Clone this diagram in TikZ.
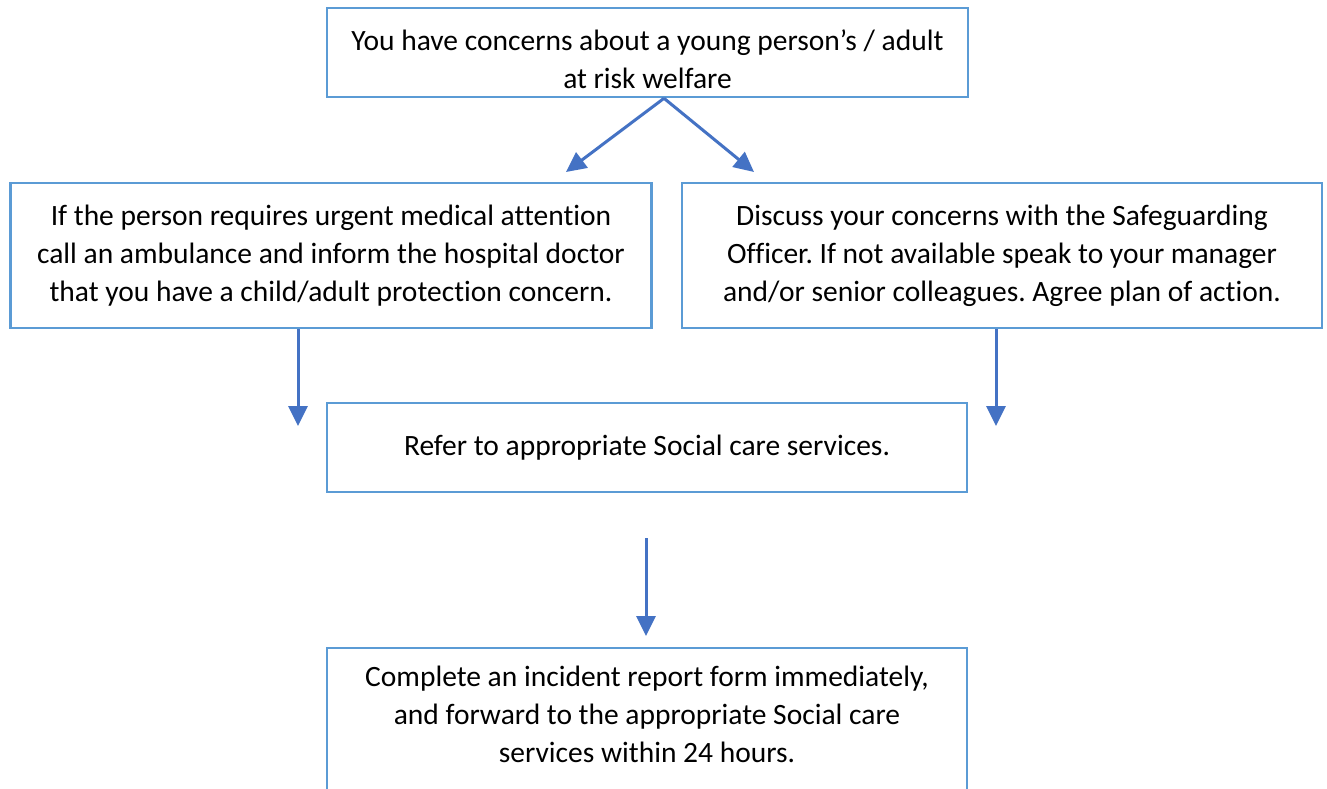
\documentclass[tikz,border=0pt]{standalone}
\usepackage{fontspec}
\setmainfont{Carlito}[Ligatures=NoCommon]
\usetikzlibrary{arrows.meta}
\definecolor{boxline}{HTML}{5B9BD5}
\definecolor{arrowblue}{HTML}{4472C4}
\tikzset{
  boxtext/.style={align=center, inner sep=0pt,
    font=\fontsize{29.5pt}{38pt}\selectfont},
  flowbox/.style={boxtext, draw=boxline, line width=2.6pt, rectangle},
  flowarrow/.style={draw=arrowblue, line width=3pt,
    -{Triangle[length=20pt,width=19pt]}}
}
\begin{document}
\frenchspacing
\begin{tikzpicture}[x=1pt,y=-1pt]
\useasboundingbox (0,0) rectangle (1327,789);
\fill[white] (0,0) rectangle (1327,789);
\begin{scope}
\clip (0,0) rectangle (1327,789);
% boxes, placed by their centres
\node[flowbox, minimum width=641pt, minimum height=89pt] (top) at (647.5,52.5) {};
\node[boxtext] (toptext) at (647.5,59)
  {You have concerns about a young person’s / adult\\at risk welfare};
\node[flowbox, minimum width=641pt, minimum height=145pt] (left) at (331,255.5)
  {If the person requires urgent medical attention\\call an ambulance and inform the hospital doctor\\that you have a child/adult protection concern.};
\node[flowbox, minimum width=640pt, minimum height=145pt] (right) at (1002,255.5)
  {Discuss your concerns with the Safeguarding\\Officer. If not available speak to your manager\\and/or senior colleagues. Agree plan of action.};
\node[flowbox, minimum width=640pt, minimum height=89pt] (refer) at (647,447.5)
  {Refer to appropriate Social care services.};
% the last box runs past the lower edge of the page
\node[flowbox, minimum width=640pt, minimum height=152pt] (report) at (647,724) {};
\node[boxtext] (reporttext) at (647,714)
  {Complete an incident report form immediately,\\and forward to the appropriate Social care\\services within 24 hours.};
\end{scope}
% free arrow ends
\coordinate (tipL) at (566,172);
\coordinate (tipR) at (754,172);
\coordinate (tipDL) at (298,426);
\coordinate (tipDR) at (996,426);
\coordinate (midstart) at (646,538);
\coordinate (tipM) at (646,636);
% connectors
\draw[flowarrow] ([xshift=16.5pt]top.south) -- (tipL);
\draw[flowarrow] ([xshift=16.5pt]top.south) -- (tipR);
\draw[flowarrow] ([xshift=-33pt]left.south) -- (tipDL);
\draw[flowarrow] ([xshift=-6pt]right.south) -- (tipDR);
\draw[flowarrow] (midstart) -- (tipM);
\end{tikzpicture}
\end{document}
